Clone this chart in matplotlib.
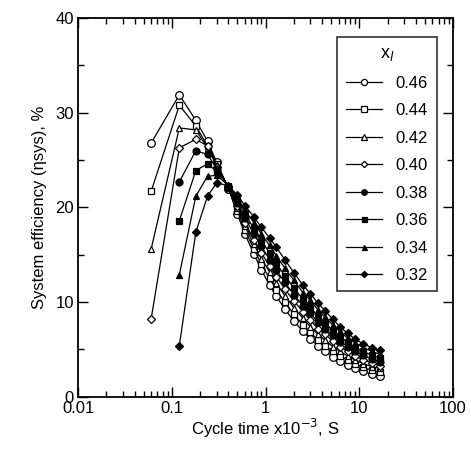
import matplotlib
matplotlib.use("Agg")
import matplotlib.pyplot as plt
from matplotlib.ticker import FixedLocator, FixedFormatter, LogLocator, NullFormatter, MultipleLocator

plt.rcParams['font.family'] = ['Liberation Sans', 'DejaVu Sans']

# x_l の値ごとの系列
labels = ["0.46", "0.44", "0.42", "0.40", "0.38", "0.36", "0.34", "0.32"]

x_head_a = [0.06, 0.12, 0.18, 0.24, 0.3]   # 0.46〜0.40
x_head_b = [0.12, 0.18, 0.24, 0.3]         # 0.38〜0.32
x_tail = [0.4, 0.5, 0.6, 0.75, 0.9, 1.1, 1.3, 1.6, 2.0, 2.5, 3.0, 3.6, 4.3,
          5.2, 6.2, 7.5, 9, 11, 13.5, 16.5]

eff_046 = [26.8, 31.9, 29.2, 27.0, 24.8,
           22.0, 19.3, 17.2, 15.1, 13.4, 11.8, 10.6, 9.3, 8.0, 6.9, 6.1, 5.4, 4.8, 4.2, 3.8, 3.4, 3.0, 2.7, 2.4, 2.2]
eff_044 = [21.7, 30.8, 28.6, 26.5, 24.6,
           22.1, 19.6, 17.6, 15.6, 14.0, 12.5, 11.3, 10.0, 8.7, 7.6, 6.8, 6.0, 5.4, 4.8, 4.3, 3.9, 3.5, 3.1, 2.8, 2.6]
eff_042 = [15.6, 28.4, 28.2, 26.3, 24.5,
           22.1, 19.9, 18.0, 16.1, 14.6, 13.2, 12.0, 10.7, 9.4, 8.3, 7.4, 6.6, 6.0, 5.3, 4.8, 4.3, 3.9, 3.5, 3.2, 3.0]
eff_040 = [8.2, 26.3, 27.2, 26.5, 24.3,
           22.2, 20.2, 18.4, 16.6, 15.2, 13.8, 12.7, 11.4, 10.1, 9.0, 8.1, 7.2, 6.6, 5.9, 5.3, 4.8, 4.3, 3.9, 3.6, 3.3]
eff_038 = [22.7, 26.0, 25.6, 24.1,
           22.2, 20.5, 18.9, 17.2, 15.9, 14.5, 13.4, 12.1, 10.8, 9.6, 8.8, 7.9, 7.2, 6.5, 5.8, 5.3, 4.8, 4.4, 4.0, 3.7]
eff_036 = [18.6, 23.9, 24.6, 23.8,
           22.3, 20.8, 19.3, 17.8, 16.5, 15.2, 14.1, 12.8, 11.5, 10.3, 9.5, 8.5, 7.8, 7.0, 6.3, 5.8, 5.2, 4.8, 4.4, 4.1]
eff_034 = [12.9, 21.2, 23.3, 23.4,
           22.3, 21.0, 19.7, 18.4, 17.2, 16.0, 14.9, 13.6, 12.3, 11.0, 10.2, 9.2, 8.4, 7.6, 6.9, 6.2, 5.7, 5.2, 4.8, 4.5]
eff_032 = [5.4, 17.4, 21.2, 22.6,
           22.3, 21.3, 20.2, 19.0, 17.9, 16.8, 15.8, 14.5, 13.1, 11.8, 10.9, 9.9, 9.1, 8.2, 7.4, 6.7, 6.1, 5.6, 5.2, 4.9]

series = [eff_046, eff_044, eff_042, eff_040, eff_038, eff_036, eff_034, eff_032]
markers = ['o', 's', '^', 'D', 'o', 's', '^', 'D']
msizes = [5.5, 5, 5, 4, 5, 4.5, 4.5, 4]

fig = plt.figure(figsize=(4.71, 4.54), dpi=100)
ax = fig.add_axes([0.166, 0.126, 0.796, 0.834])

for i in range(8):
    xs = (x_head_a if i < 4 else x_head_b) + x_tail
    face = 'white' if i < 4 else 'black'
    ax.plot(xs, series[i], color='black', lw=0.9, marker=markers[i],
            ms=msizes[i], mfc=face, mec='black', mew=0.9, label=labels[i])

ax.set_xscale('log')
ax.set_xlim(0.01, 100)
ax.set_ylim(0, 40)
ax.xaxis.set_major_locator(FixedLocator([0.01, 0.1, 1, 10, 100]))
ax.xaxis.set_major_formatter(FixedFormatter(["0.01", "0.1", "1", "10", "100"]))
ax.xaxis.set_minor_locator(LogLocator(base=10, subs=range(2, 10)))
ax.xaxis.set_minor_formatter(NullFormatter())
ax.yaxis.set_major_locator(MultipleLocator(10))
ax.yaxis.set_minor_locator(MultipleLocator(5))

ax.tick_params(which='both', direction='in', top=True, right=True, labelsize=12, width=1)
ax.tick_params(which='major', length=7, pad=3)
ax.tick_params(which='minor', length=4)
for s in ax.spines.values():
    s.set_linewidth(1.3)

ax.set_xlabel("Cycle time x10$^{-3}$, S", fontsize=12, labelpad=1)
ax.set_ylabel("System efficiency (\u03b7sys), %", fontsize=12, labelpad=6)

leg = ax.legend(loc='upper right', bbox_to_anchor=(0.978, 0.973), title="x$_l$",
                fontsize=12, title_fontsize=13, frameon=True, fancybox=False,
                edgecolor='black', handlelength=2.2, labelspacing=0.75,
                borderpad=0.5, markerscale=0.8)
leg.get_frame().set_linewidth(1.2)

fig.savefig("out.png", dpi=100)
